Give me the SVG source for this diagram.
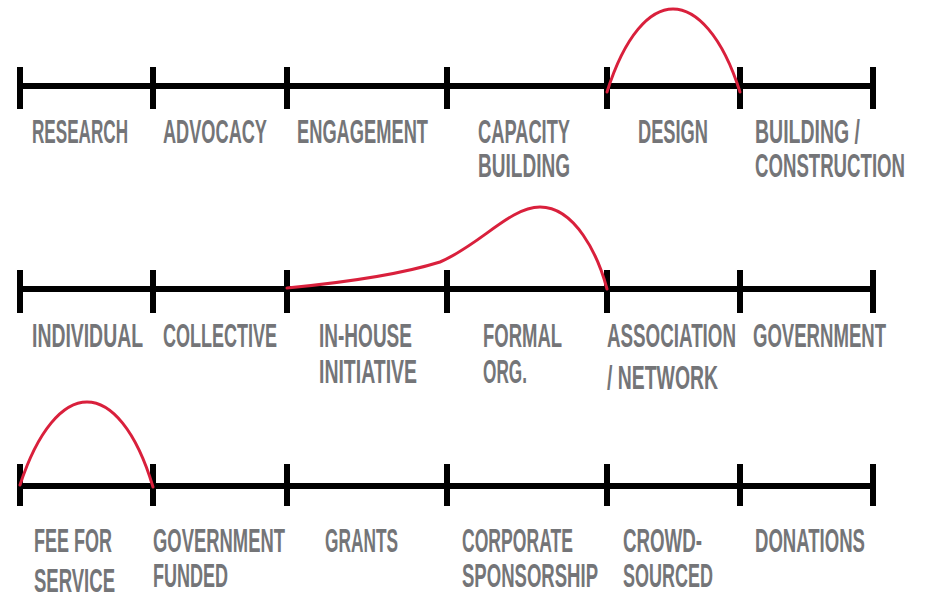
<svg xmlns="http://www.w3.org/2000/svg" width="927" height="596" viewBox="0 0 927 596">
<style>
.ax{stroke:#000;stroke-width:6;fill:none}
.tk{stroke:#000;stroke-width:6}
.lb{font-family:"Liberation Sans",Arial,sans-serif;font-size:33px;font-weight:bold;fill:#747578}
.cv{stroke:#d9203c;stroke-width:3;fill:none;stroke-linecap:round}
</style>
<rect width="927" height="596" fill="#fff"/>
<g id="axis1">
<line class="ax" x1="20" y1="86" x2="873" y2="86"/>
<path class="tk" d="M20,67V109M153,67V109M287,67V109M447,67V109M607,67V109M740,67V109M873,67V109"/>
</g>
<g id="axis2">
<line class="ax" x1="20" y1="289" x2="873" y2="289"/>
<path class="tk" d="M20,270V313M153,270V313M287,270V313M447,270V313M607,270V313M740,270V313M873,270V313"/>
</g>
<g id="axis3">
<line class="ax" x1="20" y1="486" x2="873" y2="486"/>
<path class="tk" d="M20,464V506M153,464V506M287,464V506M447,464V506M607,464V506M740,464V506M873,464V506"/>
</g>
<g id="connectors">
<path class="cv" d="M607,92 C625,35 650,9 673,9 C696,9 722,35 740,92"/>
<path class="cv" d="M287,288 C350,282 405,273 440,262 C480,245 510,207 540,207 C575,207 598,255 607,289"/>
<path class="cv" d="M20,485 C38,430 63,402 87,402 C111,402 136,430 153,487"/>
</g>
<g id="n-research"><text class="lb" x="32" y="143" textLength="96" lengthAdjust="spacingAndGlyphs">RESEARCH</text></g>
<g id="n-advocacy"><text class="lb" x="163" y="143" textLength="104" lengthAdjust="spacingAndGlyphs">ADVOCACY</text></g>
<g id="n-engagement"><text class="lb" x="297" y="143" textLength="131" lengthAdjust="spacingAndGlyphs">ENGAGEMENT</text></g>
<g id="n-capacity"><text class="lb" x="478" y="143" textLength="92" lengthAdjust="spacingAndGlyphs">CAPACITY</text><text class="lb" x="478" y="177" textLength="92" lengthAdjust="spacingAndGlyphs">BUILDING</text></g>
<g id="n-design"><text class="lb" x="638" y="143" textLength="70" lengthAdjust="spacingAndGlyphs">DESIGN</text></g>
<g id="n-construction"><text class="lb" x="755" y="143" textLength="105" lengthAdjust="spacingAndGlyphs">BUILDING /</text><text class="lb" x="755" y="177" textLength="150" lengthAdjust="spacingAndGlyphs">CONSTRUCTION</text></g>
<g id="n-individual"><text class="lb" x="32" y="347" textLength="111" lengthAdjust="spacingAndGlyphs">INDIVIDUAL</text></g>
<g id="n-collective"><text class="lb" x="163" y="347" textLength="114" lengthAdjust="spacingAndGlyphs">COLLECTIVE</text></g>
<g id="n-inhouse"><text class="lb" x="319" y="347" textLength="93" lengthAdjust="spacingAndGlyphs">IN-HOUSE</text><text class="lb" x="319" y="383" textLength="98" lengthAdjust="spacingAndGlyphs">INITIATIVE</text></g>
<g id="n-formal"><text class="lb" x="483" y="347" textLength="79" lengthAdjust="spacingAndGlyphs">FORMAL</text><text class="lb" x="483" y="383" textLength="44" lengthAdjust="spacingAndGlyphs">ORG.</text></g>
<g id="n-association"><text class="lb" x="607" y="347" textLength="129" lengthAdjust="spacingAndGlyphs">ASSOCIATION</text><text class="lb" x="607" y="389" textLength="111" lengthAdjust="spacingAndGlyphs">/ NETWORK</text></g>
<g id="n-government"><text class="lb" x="753" y="347" textLength="133" lengthAdjust="spacingAndGlyphs">GOVERNMENT</text></g>
<g id="n-fee"><text class="lb" x="34" y="552" textLength="78" lengthAdjust="spacingAndGlyphs">FEE FOR</text><text class="lb" x="34" y="592" textLength="81" lengthAdjust="spacingAndGlyphs">SERVICE</text></g>
<g id="n-govfunded"><text class="lb" x="153" y="552" textLength="132" lengthAdjust="spacingAndGlyphs">GOVERNMENT</text><text class="lb" x="153" y="587" textLength="75" lengthAdjust="spacingAndGlyphs">FUNDED</text></g>
<g id="n-grants"><text class="lb" x="325" y="552" textLength="73" lengthAdjust="spacingAndGlyphs">GRANTS</text></g>
<g id="n-corporate"><text class="lb" x="462" y="552" textLength="111" lengthAdjust="spacingAndGlyphs">CORPORATE</text><text class="lb" x="462" y="587" textLength="136" lengthAdjust="spacingAndGlyphs">SPONSORSHIP</text></g>
<g id="n-crowd"><text class="lb" x="623" y="552" textLength="79" lengthAdjust="spacingAndGlyphs">CROWD-</text><text class="lb" x="623" y="587" textLength="90" lengthAdjust="spacingAndGlyphs">SOURCED</text></g>
<g id="n-donations"><text class="lb" x="755" y="552" textLength="110" lengthAdjust="spacingAndGlyphs">DONATIONS</text></g>
</svg>
